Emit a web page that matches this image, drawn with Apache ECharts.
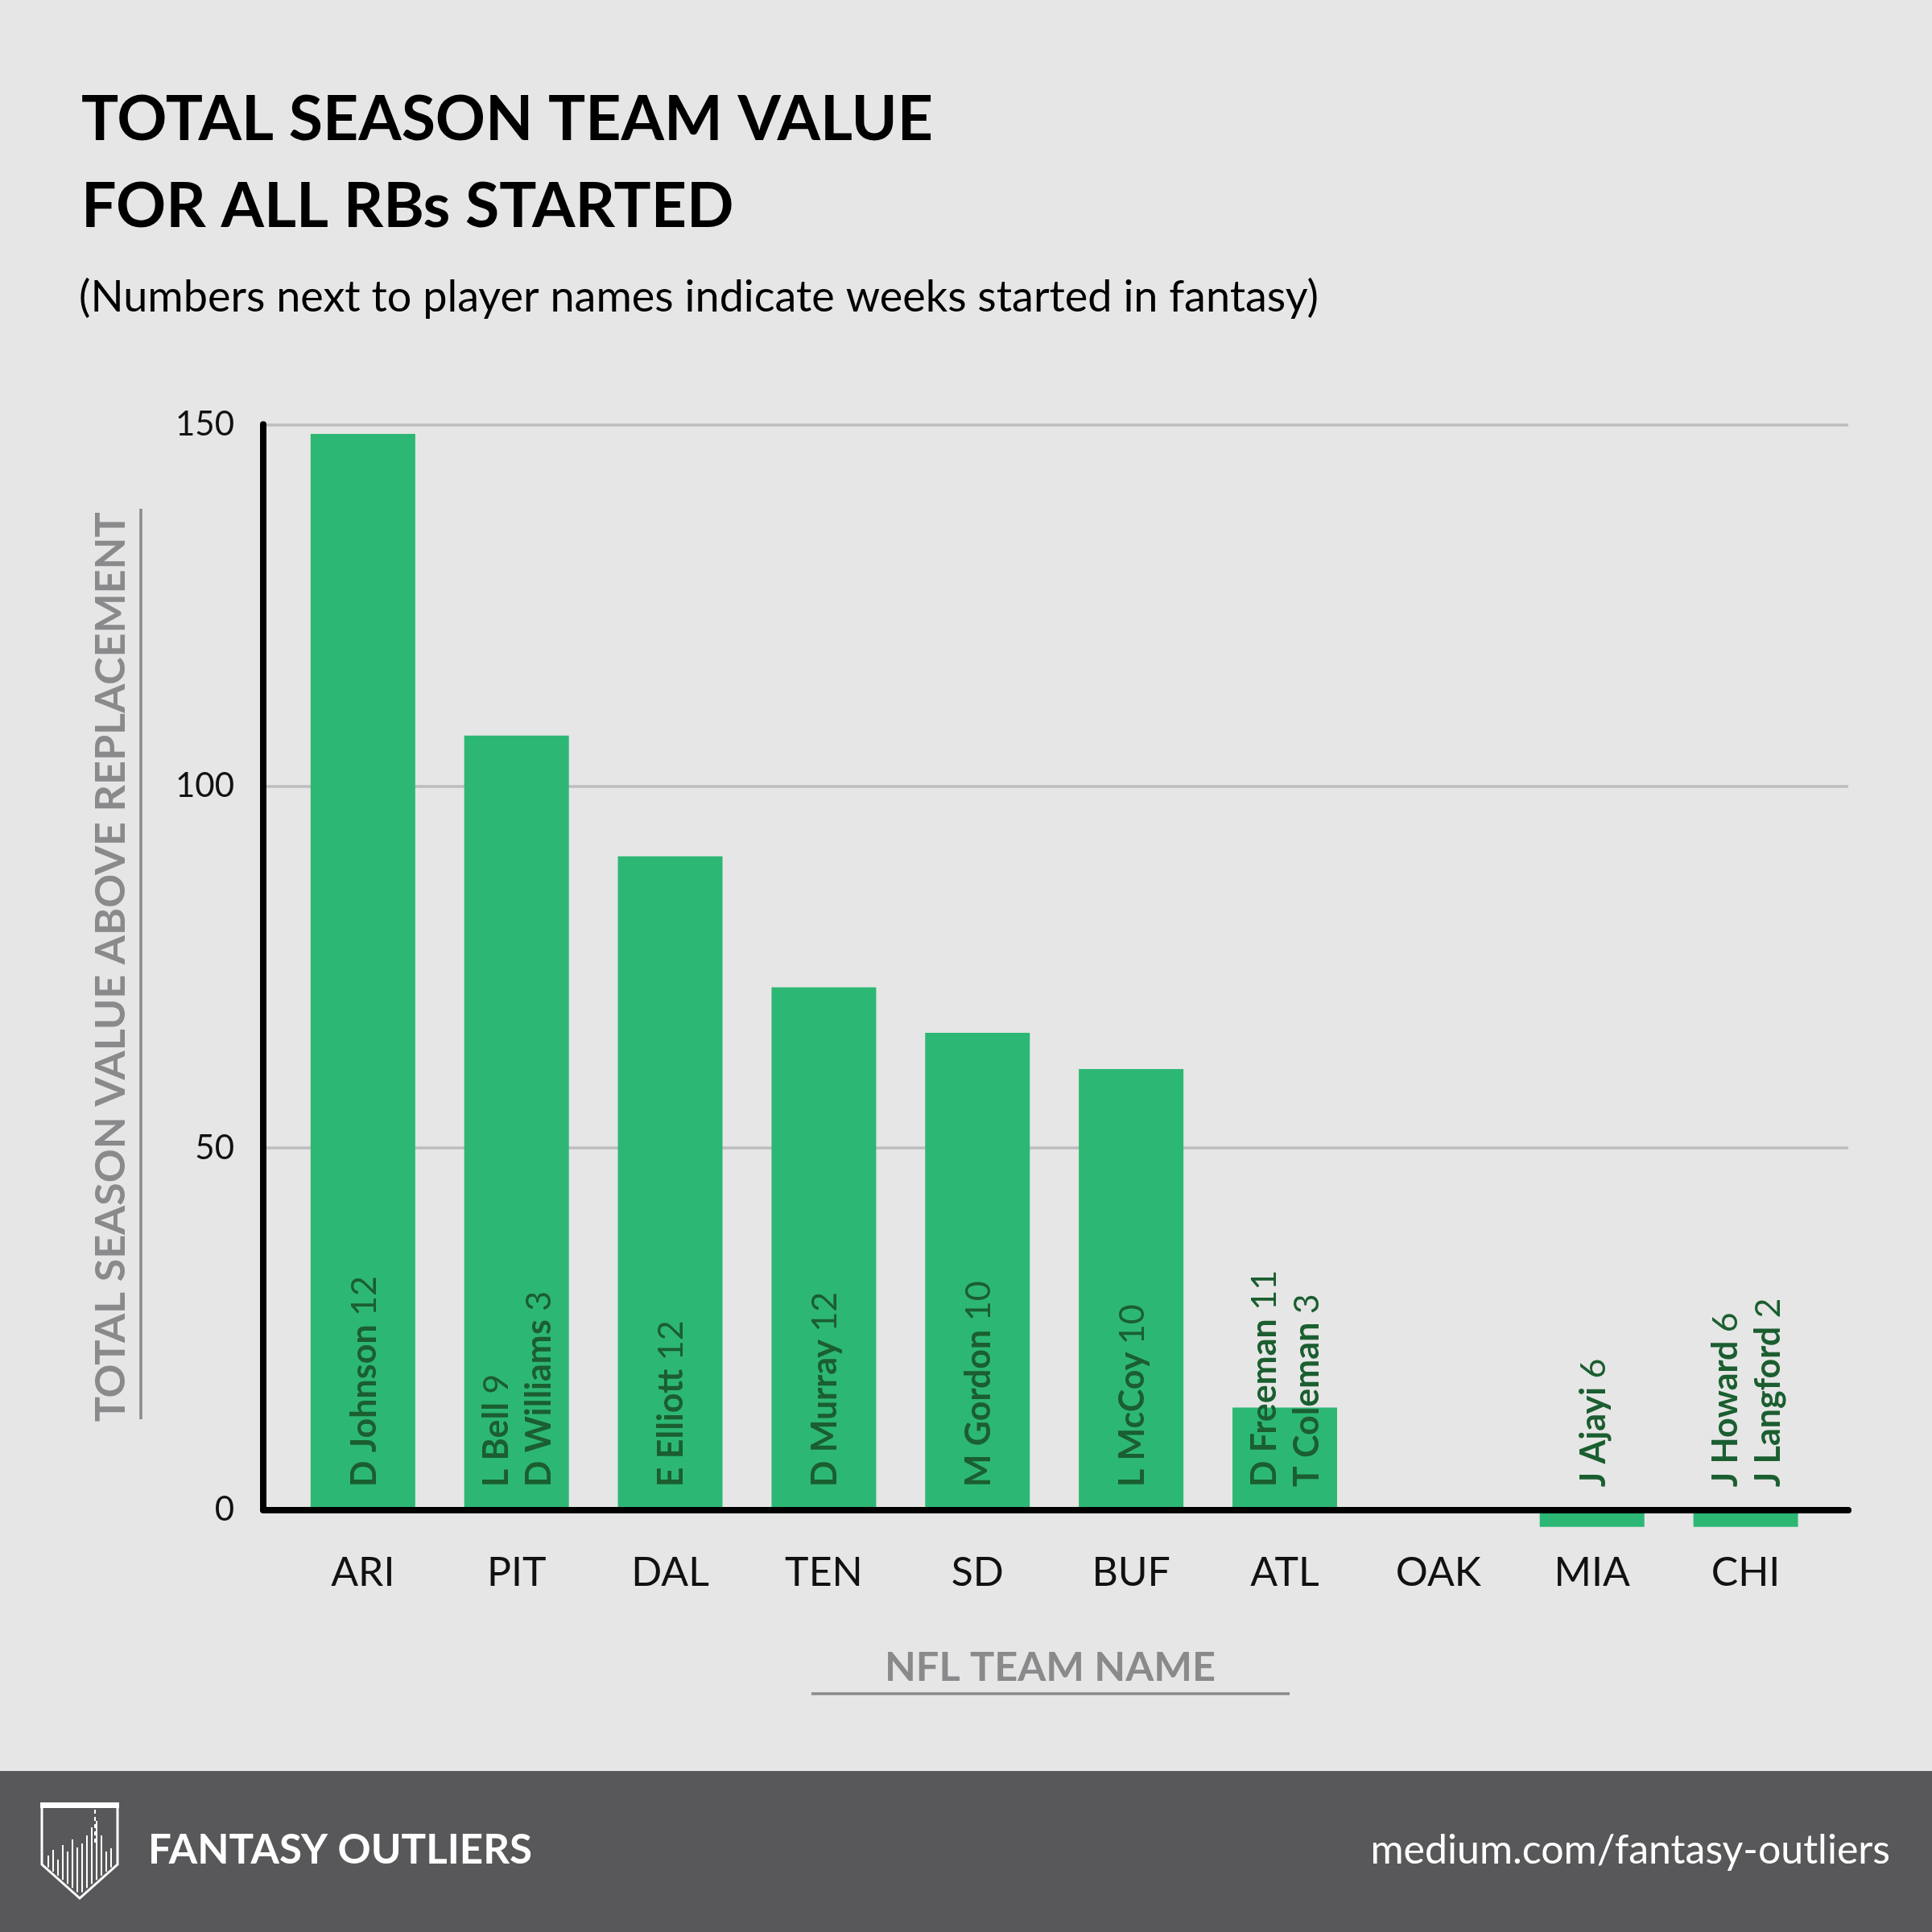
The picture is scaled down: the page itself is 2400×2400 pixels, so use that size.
<!DOCTYPE html>
<html><head><meta charset="utf-8">
<script src="https://cdn.jsdelivr.net/npm/echarts@6/dist/echarts.min.js"></script>
<style>html,body{margin:0;padding:0;background:#e6e6e6}#c{width:2400px;height:2400px}</style>
</head><body><div id="c"></div>
<script>
// ---------- data ----------
const teams = ['ARI', 'PIT', 'DAL', 'TEN', 'SD', 'BUF', 'ATL', 'OAK', 'MIA', 'CHI'];
const values = [148.7, 107.0, 90.3, 72.2, 65.9, 60.9, 14.1, 0, -2.4, -2.4];
const players = [['D Johnson'], ['L Bell', 'D Williams'], ['E Elliott'], ['D Murray'], ['M Gordon'], ['L McCoy'], ['D Freeman', 'T Coleman'], [], ['J Ajayi'], ['J Howard', 'J Langford']];
const weeks = [[12], [9, 3], [12], [12], [10], [10], [11, 3], [], [6], [6, 2]];
const yTickValues = [0, 50, 100, 150];
const titleLines = ['TOTAL SEASON TEAM VALUE', 'FOR ALL RBs STARTED'];
const subtitle = '(Numbers next to player names indicate weeks started in fantasy)';
const yAxisTitle = 'TOTAL SEASON VALUE ABOVE REPLACEMENT';
const xAxisTitle = 'NFL TEAM NAME';
const brandName = 'FANTASY OUTLIERS';
const brandUrl = 'medium.com/fantasy-outliers';

// ---------- styling ----------
const FONT = 'Lato';
const BAR = '#2db775';
const LABEL = '#1b5e30';
const GRAY = '#8a8a8c';

const labelTexts = players.map((ps, i) => ps.map((p, j) => '{b|' + p + '\u00a0}{r|' + weeks[i][j] + '}').join('\n'));

const chart = echarts.init(document.getElementById('c'), null, {renderer: 'canvas'});

const pxPerUnit = 1348 / 150;
const gTop = 527.3;

// logo pieces
const logoChildren = [];
logoChildren.push({type: 'rect', shape: {x: 50, y: 2239, width: 98, height: 7}, style: {fill: '#fff'}});
logoChildren.push({type: 'polyline', shape: {points: [[52, 2244], [52, 2316], [99, 2358], [146, 2316], [146, 2244]]}, style: {stroke: '#fff', lineWidth: 3, fill: null}});
const logoLineX = [60, 66, 72, 78, 84, 90, 96, 102, 108, 114, 120, 126, 132, 138];
const logoLineTop = [2305, 2298, 2310, 2292, 2300, 2285, 2295, 2290, 2280, 2270, 2262, 2280, 2300, 2296];
logoLineX.forEach((x, k) => {
  const bottom = x < 99 ? 2316 + (x - 52) / 47 * 40 : 2316 + (146 - x) / 47 * 40;
  logoChildren.push({type: 'line', shape: {x1: x, y1: logoLineTop[k], x2: x, y2: bottom - 3}, style: {stroke: '#fff', lineWidth: 2}});
});
logoChildren.push({type: 'line', shape: {x1: 118, y1: 2248, x2: 118, y2: 2290}, style: {stroke: '#fff', lineWidth: 2, lineDash: [5, 4]}});

chart.setOption({
  backgroundColor: '#e6e6e6',
  animation: false,
  title: [
    {text: titleLines.join('\n'), left: 101, top: 95, padding: 0,
      textStyle: {fontFamily: FONT, fontWeight: 'bold', fontSize: 77, lineHeight: 108, color: '#000'}},
    {text: subtitle, left: 98, top: 343, padding: 0,
      textStyle: {fontFamily: FONT, fontWeight: 'normal', fontSize: 54, color: '#000'}}
  ],
  grid: [
    {left: 327, top: gTop, width: 1969, height: 150 * pxPerUnit},
    {left: 355.4, top: gTop, width: 1908.6, height: 153 * pxPerUnit}
  ],
  xAxis: [
    {type: 'category', gridIndex: 0, data: teams, z: 6,
      axisLine: {show: true, lineStyle: {color: '#000', width: 8}},
      axisTick: {show: false}, axisLabel: {show: false}, splitLine: {show: false},
      name: xAxisTitle, nameLocation: 'middle', nameGap: 171,
      nameTextStyle: {fontFamily: FONT, fontWeight: 'bold', fontSize: 50.5, color: GRAY, padding: [0, 14, 0, 0]}},
    {type: 'category', gridIndex: 1, data: teams,
      axisLine: {show: false, onZero: false}, axisTick: {show: false}, splitLine: {show: false},
      axisLabel: {show: true, margin: 27, fontFamily: FONT, fontSize: 50, color: '#111'}}
  ],
  yAxis: [
    {type: 'value', gridIndex: 0, min: yTickValues[0], max: yTickValues[yTickValues.length - 1], interval: yTickValues[1] - yTickValues[0],
      axisLine: {show: true, lineStyle: {color: '#000', width: 8}},
      axisTick: {show: false},
      axisLabel: {margin: 36, fontFamily: FONT, fontSize: 42, color: '#111', padding: [11, 0, 0, 0]},
      splitLine: {show: true, lineStyle: {color: '#bdbdbf', width: 3.5}},
      name: yAxisTitle, nameLocation: 'middle', nameRotate: 90, nameGap: 163,
      nameTextStyle: {fontFamily: FONT, fontWeight: 'bold', fontSize: 52, color: GRAY}},
    {type: 'value', gridIndex: 1, min: -3, max: 150, show: false, splitLine: {show: false}}
  ],
  series: [
    {type: 'bar', xAxisIndex: 1, yAxisIndex: 1, data: values, barWidth: 130,
      itemStyle: {color: BAR}, silent: true, z: 2},
    {type: 'custom', xAxisIndex: 1, yAxisIndex: 1, silent: true, z: 4, clip: false,
      data: teams.map((t, i) => [i, 0]),
      renderItem: function (params, api) {
        const i = api.value(0);
        const txt = labelTexts[i];
        if (!txt) return null;
        const pt = api.coord([i, 0]);
        return {
          type: 'text', x: pt[0] + 2, y: pt[1] - 28, rotation: Math.PI / 2,
          style: {
            text: txt, align: 'left', verticalAlign: 'middle', fill: LABEL,
            rich: {
              b: {fontFamily: FONT, fontWeight: 'bold', fontSize: 43, lineHeight: 53, fill: LABEL},
              r: {fontFamily: FONT, fontWeight: 'normal', fontSize: 43, lineHeight: 53, fill: LABEL}
            }
          }
        };
      }
    }
  ],
  graphic: [
    {type: 'line', shape: {x1: 175, y1: 632, x2: 175, y2: 1763}, style: {stroke: GRAY, lineWidth: 3.5}},
    {type: 'line', shape: {x1: 1008, y1: 2104, x2: 1602, y2: 2104}, style: {stroke: GRAY, lineWidth: 3.5}},
    {type: 'rect', shape: {x: 0, y: 2200, width: 2400, height: 200}, style: {fill: '#58585a'}},
    {type: 'group', children: logoChildren},
    {type: 'text', x: 184, y: 2299, style: {text: brandName, fill: '#fff', font: 'bold 51px Lato', align: 'left', verticalAlign: 'middle'}},
    {type: 'text', x: 2348, y: 2299, style: {text: brandUrl, fill: '#fff', font: '50px Lato', align: 'right', verticalAlign: 'middle'}}
  ]
});
</script></body></html>
